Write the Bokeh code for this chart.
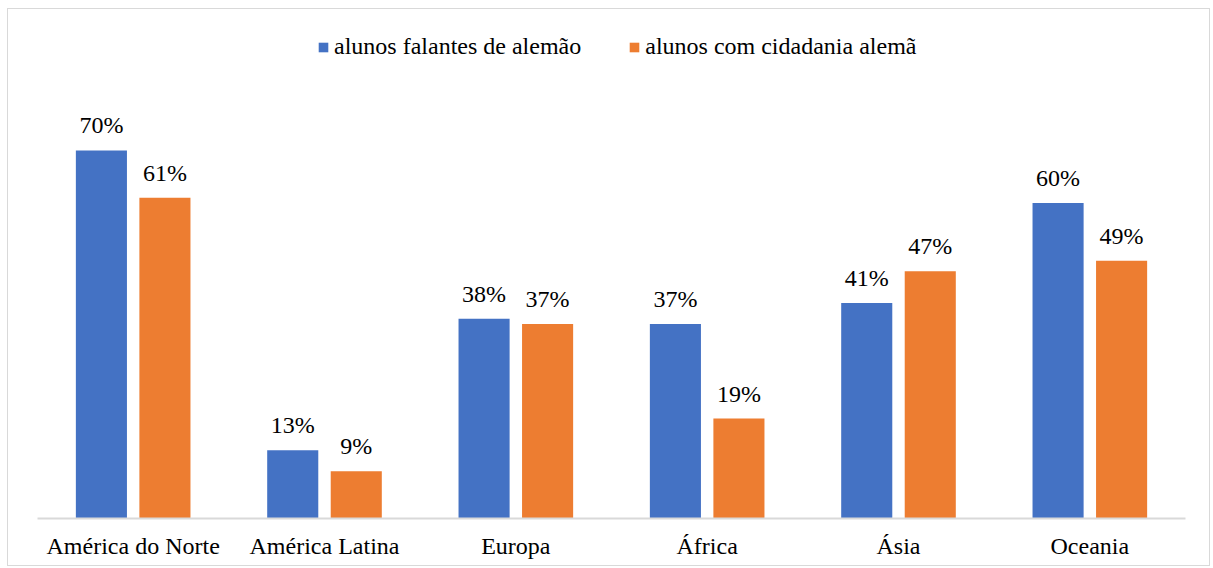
from bokeh.plotting import figure
from bokeh.models import ColumnDataSource, FactorRange, Range1d, Legend, LegendItem
from bokeh.transform import dodge
from bokeh.core.properties import value
from bokeh.embed import file_html
from bokeh.resources import INLINE

categories = ["América do Norte", "América Latina", "Europa", "África", "Ásia", "Oceania"]
falantes = [70, 13, 38, 37, 41, 60]
cidadania = [61, 9, 37, 19, 47, 49]
series_names = ["alunos falantes de alemão", "alunos com cidadania alemã"]

BLUE = "#4472C4"
ORANGE = "#ED7D31"
FONT = "Liberation Serif"
FS = "24px"

src = ColumnDataSource(dict(
    cat=categories,
    a=falantes,
    b=cidadania,
    a_lbl=[f"{v}%" for v in falantes],
    b_lbl=[f"{v}%" for v in cidadania],
))

p = figure(
    x_range=FactorRange(factors=categories, range_padding=0),
    y_range=Range1d(0, 94.7),
    width=1203, height=558,
    output_backend="svg", toolbar_location=None,
    y_axis_location=None,
    min_border_left=29, min_border_right=26, min_border_top=11, min_border_bottom=49,
)
p.styles = {"border": "1px solid #d9d9d9", "margin": "8px 0 0 7px"}
p.outline_line_color = None
p.grid.visible = False
p.background_fill_color = "white"
p.border_fill_color = "white"

off = 0.166
w = 0.267
r1 = p.vbar(x=dodge("cat", -off, range=p.x_range), top="a", width=w, source=src,
            fill_color=BLUE, line_color=None)
r2 = p.vbar(x=dodge("cat", off, range=p.x_range), top="b", width=w, source=src,
            fill_color=ORANGE, line_color=None)

for col, lbl, o in (("a", "a_lbl", -off), ("b", "b_lbl", off)):
    p.text(x=dodge("cat", o, range=p.x_range), y=col, text=lbl, source=src,
           text_align="center", text_baseline="alphabetic", y_offset=-25,
           text_font=value(FONT), text_font_size=FS, text_color="#000000")

ax = p.xaxis[0]
ax.axis_line_color = "#d9d9d9"
ax.axis_line_width = 2
ax.major_tick_line_color = None
ax.minor_tick_line_color = None
ax.major_tick_out = 0
ax.major_tick_in = 0
ax.major_label_standoff = 14
ax.major_label_text_font = FONT
ax.major_label_text_font_size = FS
ax.major_label_text_color = "#000000"

legend = Legend(items=[LegendItem(label=series_names[0], renderers=[r1]),
                       LegendItem(label=series_names[1], renderers=[r2])],
                location=(280, 458), orientation="horizontal",
                label_text_font=FONT, label_text_font_size=FS, label_text_color="#000000",
                glyph_width=12, glyph_height=12, spacing=47, label_standoff=5,
                padding=0, margin=0, border_line_color=None, background_fill_alpha=0)
p.add_layout(legend)

open("out.html", "w").write(file_html(p, INLINE))
